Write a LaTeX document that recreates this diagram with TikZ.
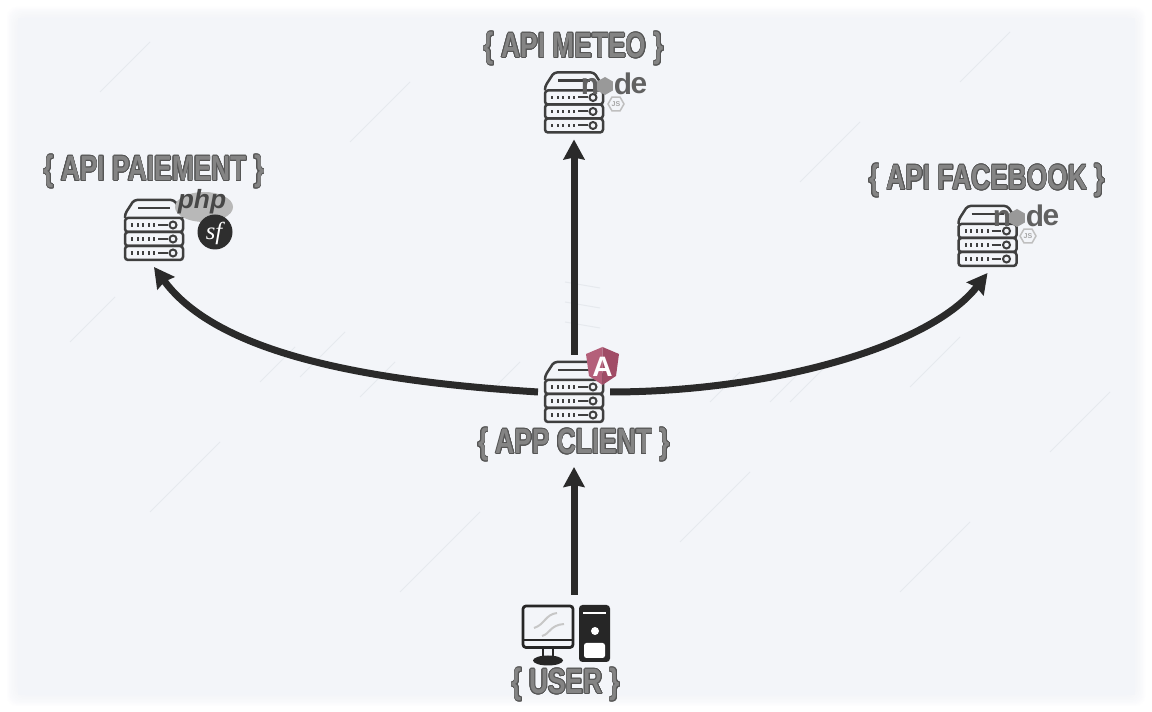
\documentclass[tikz,border=0pt]{standalone}
\usepackage{fontspec}
\usepackage[copies]{contour}
\usepackage{graphicx}
\setmainfont{Liberation Sans}
\newfontfamily\sfbadgefont{Liberation Serif}
\usetikzlibrary{arrows.meta,shapes.geometric}
\definecolor{sheetblue}{HTML}{F3F5F9}
\definecolor{inkdark}{HTML}{2A2A2A}
\definecolor{rackink}{HTML}{3F3F3F}
\definecolor{labelfill}{HTML}{848484}
\definecolor{labeledge}{HTML}{555555}
\definecolor{scratchgrey}{HTML}{E6E9EE}
\definecolor{angularrose}{HTML}{B4607A}
\definecolor{angulardark}{HTML}{A04C66}
\contourlength{0.5pt}
\tikzset{
	flowarrow/.style={line width=1.4mm, draw=inkdark, -{Stealth[length=4mm,width=4.2mm,inset=0.4mm]}},
	rackbox/.style={minimum width=1.16cm, minimum height=1.2cm, inner sep=0, outer sep=0.14cm},
	rackline/.style={draw=rackink, line width=0.5mm, rounded corners=0.6mm},
	apilabel/.style={inner sep=0, font=\bfseries\fontsize{20}{22}\selectfont},
	logotext/.style={inner sep=0, font=\bfseries\fontsize{17}{18}\selectfont, text=black!62}
}
\def\labeltext#1{\scalebox{0.75}[1]{\contour{labeledge}{\textcolor{labelfill}{#1}}}}
\def\rackicon(#1)(#2){
	\node[rackbox] (#1) at (#2) {};
	\begin{scope}[shift={(#2)}]
		\draw[rackline] (-0.58, 0.24) -- (-0.58, 0.32) -- (-0.40, 0.6) -- (0.40, 0.6) -- (0.58, 0.32) -- (0.58, 0.24);
		\draw[draw=rackink, line width=0.45mm] (-0.32, 0.44) -- (0.32, 0.44);
		\foreach \rowy in {0.10, -0.18, -0.46} {
			\draw[rackline] (-0.58, \rowy+0.14) rectangle (0.58, \rowy-0.14);
			\foreach \dotx in {-0.44, -0.33, -0.22, -0.11, 0.0}
				\fill[rackink] (\dotx-0.02, \rowy-0.035) rectangle (\dotx+0.02, \rowy+0.035);
			\draw[draw=rackink, line width=0.4mm] (0.08, \rowy) -- (0.27, \rowy);
			\draw[draw=rackink, line width=0.4mm] (0.38, \rowy) circle (0.07);
		}
	\end{scope}
}
\def\nodelogo(#1)(#2){
	\begin{scope}[shift={(#2)}]
		\node[logotext] (#1n) at (0, 0) {n};
		\node[regular polygon, regular polygon sides=6, rotate=30, fill=black!40, minimum size=0.36cm, inner sep=0] (#1hex) at (0.30, 0) {};
		\node[logotext] (#1d) at (0.66, 0.05) {d};
		\node[logotext] (#1e) at (0.98, 0) {e};
		\node[regular polygon, regular polygon sides=6, draw=black!25, line width=0.3mm, minimum size=0.32cm, inner sep=0] (#1hexjs) at (0.52, -0.36) {};
		\node[inner sep=0, text=black!35, font=\bfseries\fontsize{4}{4}\selectfont] (#1js) at (0.52, -0.36) {JS};
	\end{scope}
}
\begin{document}
\begin{tikzpicture}
	\useasboundingbox (0, 0) rectangle (23.04, 14.24);
	\fill[white] (0, 0) rectangle (23.04, 14.24);
	\foreach \blur in {0, 1, ..., 7}
		\fill[sheetblue, opacity=0.13, rounded corners=2mm] (0.14+\blur*0.03, 0.12+\blur*0.03) rectangle (22.90-\blur*0.03, 14.10-\blur*0.03);
	\fill[sheetblue] (0.36, 0.34) rectangle (22.70, 13.88);

	\foreach \sx/\sy/\slen in {5.2/6.6/0.7, 6.0/6.7/0.9, 7.2/6.3/0.7, 9.8/6.4/0.6, 14.2/6.2/0.6, 15.4/6.2/0.7, 15.8/6.2/0.7, 18.2/6.5/1.0, 3.0/4.0/1.4, 8.0/2.4/1.6, 13.6/3.4/1.4, 18.0/2.4/1.4, 16.0/10.6/1.2, 7.0/11.4/1.2, 2.0/12.4/1.0, 19.2/12.6/1.0, 21.0/5.2/1.2, 1.4/7.4/0.9}
		\draw[scratchgrey, line width=0.2mm] (\sx, \sy) -- ++(\slen, \slen);
	\foreach \sx/\sy in {11.3/8.6, 11.3/8.2, 11.3/7.8}
		\draw[scratchgrey, line width=0.2mm] (\sx, \sy) -- ++(0.7, -0.12);

	\rackicon(client)(11.48, 6.40)
	\rackicon(meteo)(11.48, 12.19)
	\rackicon(paiement)(3.08, 9.64)
	\rackicon(facebook)(19.75, 9.52)

	\nodelogo(meteologo)(11.80, 12.52)
	\nodelogo(facebooklogo)(20.04, 9.88)

	\node[ellipse, fill=black!28, minimum width=1.16cm, minimum height=0.6cm, inner sep=0] (phpbadge) at (4.08, 10.10) {};
	\node[inner sep=0, text=black!72, font=\bfseries\itshape\fontsize{15}{16}\selectfont] (phptext) at (4.04, 10.20) {php};
	\node[circle, fill=black!82, minimum size=0.7cm, inner sep=0] (sfbadge) at (4.30, 9.60) {};
	\node[inner sep=0, text=white, font=\sfbadgefont\itshape\fontsize{14}{15}\selectfont] (sftext) at (4.28, 9.58) {sf};

	\fill[angularrose] (12.05, 7.30) -- (11.72, 7.16) -- (11.78, 6.72) -- (12.05, 6.54) -- cycle;
	\fill[angulardark] (12.05, 7.30) -- (12.38, 7.16) -- (12.32, 6.72) -- (12.05, 6.54) -- cycle;
	\node[inner sep=0, text=white, font=\bfseries\fontsize{16}{17}\selectfont] (angulartext) at (12.05, 6.90) {A};

	\draw[draw=black!85, line width=0.55mm, rounded corners=0.6mm] (10.46, 1.29) rectangle (11.46, 2.12);
	\draw[draw=black!85, line width=0.5mm] (10.46, 1.44) -- (11.46, 1.44);
	\draw[draw=black!85, line width=0.5mm] (10.86, 1.29) -- (10.86, 1.08) (11.06, 1.29) -- (11.06, 1.08);
	\fill[black!85] (10.96, 1.03) ellipse (0.30 and 0.1);
	\draw[black!22, line width=0.4mm] (10.68, 1.68) .. controls (10.9, 1.75) and (10.9, 1.95) .. (11.14, 1.98);
	\draw[black!22, line width=0.4mm] (10.84, 1.52) .. controls (11.0, 1.56) and (11.0, 1.74) .. (11.28, 1.76);

	\fill[black!85, rounded corners=0.7mm] (11.58, 1.00) rectangle (12.20, 2.14);
	\fill[white] (11.66, 1.96) rectangle (12.12, 2.00);
	\fill[white] (11.90, 1.62) circle (0.08);
	\fill[white, rounded corners=0.5mm] (11.68, 1.08) rectangle (12.10, 1.38);

	\node[apilabel] (meteolabel) at (11.48, 13.26) {\labeltext{\{ API METEO \}}};
	\node[apilabel] (paiementlabel) at (3.08, 10.80) {\labeltext{\{ API PAIEMENT \}}};
	\node[apilabel] (facebooklabel) at (19.74, 10.62) {\labeltext{\{ API FACEBOOK \}}};
	\node[apilabel] (clientlabel) at (11.48, 5.34) {\labeltext{\{ APP CLIENT \}}};
	\node[apilabel] (userlabel) at (11.32, 0.54) {\labeltext{\{ USER \}}};

	\coordinate (userout) at (11.48, 2.34);
	\coordinate (clientin) at (11.48, 4.90);

	\draw[flowarrow] (userout) -- (clientin);
	\draw[flowarrow] (client.north) -- (meteo.south);
	\draw[flowarrow] (client.west) .. controls (7.6, 6.6) and (4.4, 7.1) .. (paiement.south);
	\draw[flowarrow] (client.east) .. controls (15.4, 6.4) and (18.6, 7.3) .. (facebook.south);
\end{tikzpicture}
\end{document}
